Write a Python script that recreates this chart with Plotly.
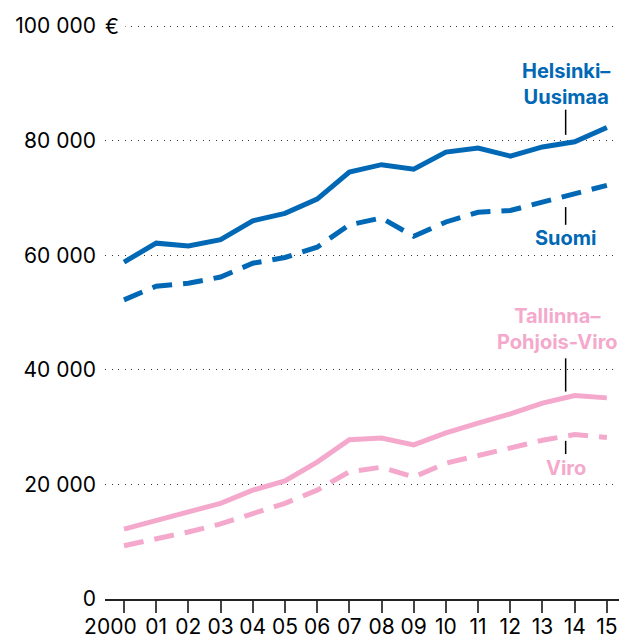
import plotly.graph_objects as go

years = list(range(2000, 2016))
year_labels = ["2000\u2007\u2007"] + [f"{y % 100:02d}" for y in years[1:]]

helsinki_uusimaa = [58800, 62100, 61600, 62700, 66000, 67300, 69800, 74500,
                    75800, 75000, 78000, 78700, 77300, 78900, 79800, 82300]
suomi = [52200, 54600, 55100, 56200, 58600, 59600, 61400, 65300,
         66500, 63300, 65800, 67500, 67800, 69300, 70700, 72200]
tallinna = [12200, 13800, 15200, 16700, 19000, 20600, 23900, 27800,
            28100, 26900, 29000, 30700, 32300, 34200, 35500, 35100]
viro = [9300, 10400, 11700, 13100, 14800, 16700, 19000, 22200,
        23000, 21300, 23700, 25100, 26500, 27700, 28700, 28200]

y_ticks = [0, 20000, 40000, 60000, 80000, 100000]
y_labels = ["0", "20 000", "40 000", "60 000", "80 000", "100 000"]

BLUE = "#0068b4"
PINK = "#f4a9cc"
DASH = "20px,11px"

fig = go.Figure()
fig.add_trace(go.Scatter(x=years, y=suomi, mode="lines",
                         line=dict(color=BLUE, width=5, dash=DASH)))
fig.add_trace(go.Scatter(x=years, y=helsinki_uusimaa, mode="lines",
                         line=dict(color=BLUE, width=5)))
fig.add_trace(go.Scatter(x=years, y=viro, mode="lines",
                         line=dict(color=PINK, width=5, dash=DASH)))
fig.add_trace(go.Scatter(x=years, y=tallinna, mode="lines",
                         line=dict(color=PINK, width=5)))

# leader lines for the labels
lx = 2013.72
for y0, y1 in [(81000, 85400), (65300, 68400), (36200, 42000), (25300, 27600)]:
    fig.add_shape(type="line", x0=lx, x1=lx, y0=y0, y1=y1,
                  line=dict(color="black", width=1.5))

label_font = dict(family="Inter", size=20, weight="bold")
fig.add_annotation(x=lx, y=85200, text="Helsinki–<br>Uusimaa", showarrow=False,
                   yanchor="bottom", font=dict(color=BLUE, **label_font))
fig.add_annotation(x=lx, y=65500, text="Suomi", showarrow=False,
                   yanchor="top", font=dict(color=BLUE, **label_font))
fig.add_annotation(x=lx - 0.25, y=42400, text="Tallinna–<br>Pohjois-Viro", showarrow=False,
                   yanchor="bottom", font=dict(color=PINK, **label_font))
fig.add_annotation(x=lx, y=25300, text="Viro", showarrow=False,
                   yanchor="top", font=dict(color=PINK, **label_font))

# euro sign after the top tick label, covering the start of the grid line
fig.add_annotation(xref="paper", x=-0.002, y=100000, text="€\u00a0", showarrow=False,
                   xanchor="left", bgcolor="white", borderpad=0,
                   font=dict(family="Inter", size=21, color="black"))

fig.update_layout(
    width=619, height=629,
    margin=dict(l=97, r=5, t=12, b=38),
    plot_bgcolor="white", paper_bgcolor="white",
    showlegend=False,
    font=dict(family="Inter", size=21, color="black"),
)
fig.update_xaxes(
    range=[1999.41, 2015.47],
    tickvals=years, ticktext=year_labels, tickangle=0, automargin=False,
    showgrid=False, zeroline=False,
    showline=True, linecolor="#222", linewidth=1.5,
    ticks="outside", ticklen=12, tickwidth=1.5, tickcolor="#444",
    ticklabelstandoff=-4,
)
fig.update_yaxes(
    range=[0, 101050], automargin=False,
    tickvals=y_ticks, ticktext=y_labels,
    showgrid=True, gridcolor="#333", griddash="1px,5.5px", gridwidth=1.2,
    zeroline=False, showline=False,
    ticks="", ticklabelstandoff=8,
)

fig.write_html("out.html")
